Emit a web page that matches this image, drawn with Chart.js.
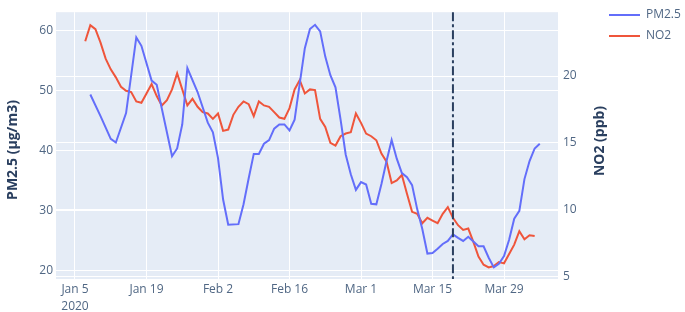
<!DOCTYPE html>
<html>
<head>
<meta charset="utf-8">
<script src="https://cdn.jsdelivr.net/npm/chart.js@4.4.1/dist/chart.umd.min.js"></script>
<style>
html,body{margin:0;padding:0;background:#fff;}
canvas{display:block;}
</style>
</head>
<body>
<canvas id="c" width="685" height="312"></canvas>
<script>
// Day numbers counted from Jan 1, 2020 = 1
const tickDays = [5, 19, 33, 47, 61, 75, 89];
const tickLabels = [['Jan 5', '2020'], 'Jan 19', 'Feb 2', 'Feb 16', 'Mar 1', 'Mar 15', 'Mar 29'];
const pmTicks = [20, 30, 40, 50, 60];
const no2Ticks = [5, 10, 15, 20];
const markerDay = 79; // Mar 19

const pmDays = [8, 10, 12, 13, 15, 17, 18, 20, 21, 24, 25, 26, 27, 29, 31, 32, 33, 34, 35, 37, 38, 39, 40, 41, 42, 43, 44, 45, 46, 47, 48, 49, 50, 51, 52, 53, 54, 55, 56, 57, 58, 59, 60, 61, 62, 63, 64, 65, 66, 67, 68, 69, 70, 71, 72, 73, 74, 75, 76, 77, 78, 79, 80, 81, 82, 83, 84, 85, 86, 87, 88, 89, 90, 91, 92, 93, 94, 95, 96];
const pmValues = [49.3, 45.7, 41.9, 41.3, 46.2, 58.8, 57.4, 51.6, 50.9, 39.0, 40.3, 44.3, 53.7, 49.7, 44.6, 43.0, 38.7, 31.8, 27.6, 27.7, 31.0, 35.3, 39.4, 39.4, 41.1, 41.7, 43.6, 44.3, 44.3, 43.3, 45.1, 51.1, 57.0, 60.2, 60.9, 59.8, 55.6, 52.5, 50.5, 45.1, 39.3, 36.0, 33.4, 34.7, 34.3, 31.1, 31.0, 34.4, 38.2, 41.7, 38.6, 36.2, 35.5, 34.2, 30.2, 26.9, 22.8, 22.9, 23.6, 24.4, 24.9, 26.0, 25.4, 24.9, 25.6, 24.8, 24.0, 24.0, 22.1, 20.5, 21.1, 22.4, 25.1, 28.6, 29.9, 35.2, 38.2, 40.3, 41.1];

const no2Days = [7, 8, 9, 10, 11, 12, 13, 14, 15, 16, 17, 18, 19, 20, 21, 22, 23, 24, 25, 26, 27, 28, 29, 30, 31, 32, 33, 34, 35, 36, 37, 38, 39, 40, 41, 42, 43, 44, 45, 46, 47, 48, 49, 50, 51, 52, 53, 54, 55, 56, 57, 58, 59, 60, 61, 62, 63, 64, 65, 66, 67, 68, 69, 70, 71, 72, 73, 74, 75, 76, 77, 78, 79, 80, 81, 82, 83, 84, 85, 86, 87, 88, 89, 90, 91, 92, 93, 94, 95];
const no2Values = [22.6, 23.8, 23.5, 22.5, 21.3, 20.5, 19.9, 19.2, 18.9, 18.8, 18.1, 18.0, 18.7, 19.4, 18.5, 17.8, 18.2, 19.0, 20.2, 19.0, 17.8, 18.3, 17.7, 17.3, 17.2, 16.8, 17.2, 15.9, 16.0, 17.1, 17.7, 18.1, 17.9, 17.0, 18.1, 17.8, 17.7, 17.3, 16.9, 16.8, 17.6, 19.0, 19.7, 18.7, 19.0, 18.95, 16.8, 16.2, 15.0, 14.8, 15.5, 15.7, 15.8, 17.2, 16.5, 15.7, 15.5, 15.2, 14.2, 13.6, 12.0, 12.2, 12.6, 11.2, 9.85, 9.7, 9.0, 9.4, 9.2, 9.0, 9.7, 10.2, 9.4, 8.85, 8.5, 8.6, 7.6, 6.5, 5.9, 5.7, 5.8, 6.1, 6.0, 6.7, 7.4, 8.4, 7.8, 8.1, 8.05];

const seriesNames = ['PM2.5', 'NO2'];
const seriesColors = ['#636efa', '#ef553b'];
const axisTitles = ['PM2.5 (µg/m3)', 'NO2 (ppb)'];

const TICK_COLOR = '#506784';
const TITLE_COLOR = '#2a3f5f';
const FONT = '"Open Sans", "Noto Sans", sans-serif';

const bgPlugin = {
  id: 'bg',
  beforeDraw(chart) {
    const {ctx, chartArea: a} = chart;
    ctx.save();
    ctx.fillStyle = '#e5ecf6';
    ctx.fillRect(a.left, a.top, a.right - a.left, a.bottom - a.top);
    ctx.restore();
  }
};

const overlayPlugin = {
  id: 'overlay',
  afterDatasetsDraw(chart) {
    const {ctx, chartArea: a, scales} = chart;
    const x = scales.x.getPixelForValue(markerDay);
    ctx.save();
    ctx.strokeStyle = '#2a3f5f';
    ctx.lineWidth = 2;
    ctx.setLineDash([9, 3, 3, 3]);
    ctx.beginPath();
    ctx.moveTo(x, a.top);
    ctx.lineTo(x, a.bottom);
    ctx.stroke();
    ctx.restore();
  },
  afterDraw(chart) {
    const {ctx} = chart;
    ctx.save();
    ctx.fillStyle = TITLE_COLOR;
    ctx.font = 'bold 14px ' + FONT;
    ctx.textAlign = 'center';
    ctx.textBaseline = 'middle';
    ctx.translate(13, 150);
    ctx.rotate(-Math.PI / 2);
    ctx.fillText(axisTitles[0], 0, 0);
    ctx.restore();
    ctx.save();
    ctx.fillStyle = TITLE_COLOR;
    ctx.font = 'bold 14px ' + FONT;
    ctx.textAlign = 'center';
    ctx.textBaseline = 'middle';
    ctx.translate(600, 141);
    ctx.rotate(-Math.PI / 2);
    ctx.fillText(axisTitles[1], 0, 0);
    ctx.restore();
    ctx.save();
    ctx.font = '12px ' + FONT;
    ctx.textAlign = 'left';
    ctx.textBaseline = 'middle';
    seriesNames.forEach((n, i) => {
      const y = 15 + i * 21;
      ctx.strokeStyle = seriesColors[i];
      ctx.lineWidth = 2;
      ctx.beginPath();
      ctx.moveTo(609, y);
      ctx.lineTo(640, y);
      ctx.stroke();
      ctx.fillStyle = TICK_COLOR;
      ctx.fillText(n, 646, y);
    });
    ctx.restore();
  }
};

const pmData = pmDays.map((d, i) => ({x: d, y: pmValues[i]}));
const no2Data = no2Days.map((d, i) => ({x: d, y: no2Values[i]}));

new Chart(document.getElementById('c'), {
  type: 'line',
  data: {
    datasets: [
      {label: seriesNames[0], data: pmData, yAxisID: 'y', borderColor: seriesColors[0], borderWidth: 2, pointRadius: 0, tension: 0, fill: false},
      {label: seriesNames[1], data: no2Data, yAxisID: 'y1', borderColor: seriesColors[1], borderWidth: 2, pointRadius: 0, tension: 0, fill: false}
    ]
  },
  options: {
    responsive: false,
    animation: false,
    devicePixelRatio: 1,
    layout: {padding: {left: 0, right: 87, top: 2, bottom: 0}},
    plugins: {legend: {display: false}, tooltip: {enabled: false}},
    scales: {
      x: {
        type: 'linear',
        min: 1.28, max: 99.57,
        afterBuildTicks: s => { s.ticks = tickDays.map(v => ({value: v})); },
        afterFit: s => { s.height = 33; },
        ticks: {
          autoSkip: false, maxRotation: 0, padding: 2,
          color: TICK_COLOR, font: {family: FONT, size: 12, lineHeight: 1.4},
          callback: v => tickLabels[tickDays.indexOf(v)]
        },
        grid: {color: '#ffffff', lineWidth: 1, drawTicks: false},
        border: {display: false}
      },
      y: {
        type: 'linear', position: 'left',
        min: 18.56, max: 63.0,
        afterBuildTicks: s => { s.ticks = pmTicks.map(v => ({value: v})); },
        afterFit: s => { s.width = 56; },
        ticks: {padding: 3, color: TICK_COLOR, font: {family: FONT, size: 12}},
        grid: {color: '#ffffff', lineWidth: 1, drawTicks: false},
        border: {display: false}
      },
      y1: {
        type: 'linear', position: 'right',
        min: 4.83, max: 24.77,
        afterBuildTicks: s => { s.ticks = no2Ticks.map(v => ({value: v})); },
        afterFit: s => { s.width = 40; },
        ticks: {padding: 5, color: TICK_COLOR, font: {family: FONT, size: 12}},
        grid: {color: '#ffffff', lineWidth: 1, drawTicks: false},
        border: {display: false}
      }
    }
  },
  plugins: [bgPlugin, overlayPlugin]
});
</script>
</body>
</html>
